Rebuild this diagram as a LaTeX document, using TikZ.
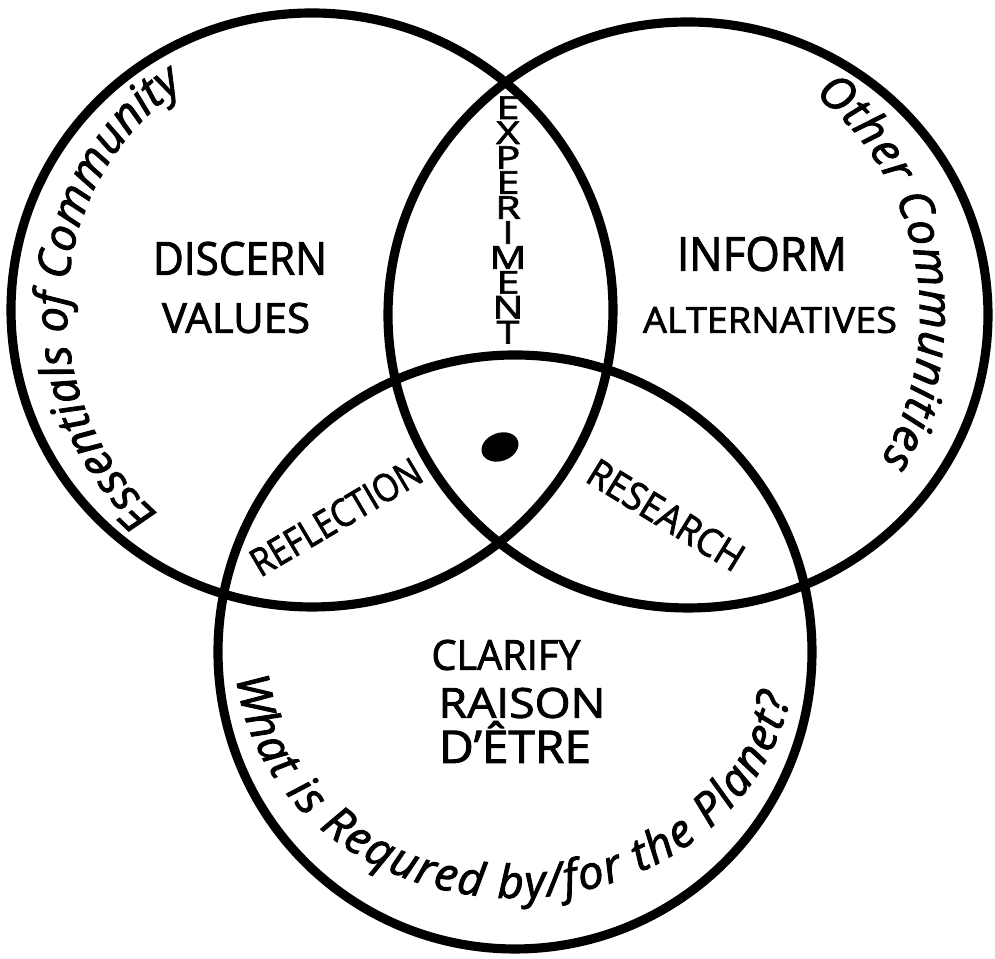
\documentclass[tikz,border=0pt]{standalone}
\usepackage{fontspec}
\setmainfont{Open Sans}[FakeBold=2]
\usepackage{graphicx}
\usetikzlibrary{decorations.text}
\newcommand\widelet[1]{\scalebox{1.3}[1]{#1}}
\begin{document}
\begin{tikzpicture}[
  ring/.style={line width=2.6pt},
  caps/.style={inner sep=0pt, text=black},
  stack/.style={inner sep=0pt, align=center, font=\fontsize{9}{7.1}\selectfont},
  along/.style={decorate, decoration={text along path, text align={fit to path}, text={#1}}}
]
\useasboundingbox (0,0) rectangle (9.95,9.59);
% circles
\draw[ring] (3.12,6.49) ellipse [x radius=3.01cm, y radius=2.97cm];
\draw[ring] (6.88,6.44) ellipse [x radius=3.00cm, y radius=2.93cm];
\draw[ring] (5.15,3.07) ellipse [x radius=2.97cm, y radius=2.97cm];
% centre dot
\fill[rotate around={20:(5.00,5.12)}] (5.00,5.12) ellipse [x radius=0.19cm, y radius=0.14cm];
% labels
\node[caps] (discern) at (2.40,7.005) {\resizebox{1.74cm}{0.33cm}{DISCERN}};
\node[caps] (values) at (2.36,6.41) {\resizebox{1.48cm}{0.30cm}{VALUES}};
\node[caps] (inform) at (7.62,7.05) {\resizebox{1.70cm}{0.34cm}{INFORM}};
\node[caps] (alternatives) at (7.70,6.39) {\resizebox{2.54cm}{0.26cm}{ALTERNATIVES}};
\node[caps] (clarify) at (5.06,3.04) {\resizebox{1.49cm}{0.30cm}{CLARIFY}};
\node[caps] (raison) at (5.22,2.56) {\resizebox{1.67cm}{0.30cm}{RAISON}};
\node[caps] (detre) at (5.15,2.17) {\resizebox{1.52cm}{0.42cm}{D’ÊTRE}};
\node[caps, rotate=30.6] (reflection) at (3.36,4.42) {\resizebox{1.92cm}{0.28cm}{REFLECTION}};
\node[caps, rotate=-31.6] (research) at (6.66,4.44) {\resizebox{1.76cm}{0.28cm}{RESEARCH}};
\node[stack] (experiment) at (5.08,7.39)
  {\widelet{E}\\\widelet{X}\\\widelet{P}\\\widelet{E}\\\widelet{R}\\\widelet{I}\\\widelet{M}\\\widelet{E}\\\widelet{N}\\\widelet{T}};
% text along the rims
\path[along={|\fontsize{13}{13}\selectfont\itshape|Essentials of Community}]
  (3.12,6.49) ++(231:2.45cm and 2.62cm)
  arc[start angle=231, end angle=123, x radius=2.45cm, y radius=2.62cm];
\path[along={|\fontsize{13}{13}\selectfont\itshape|Other Communities}]
  (6.88,6.44) ++(57:2.32cm and 2.62cm)
  arc[start angle=57, end angle=-34, x radius=2.32cm, y radius=2.62cm];
\path[along={|\fontsize{13}{13}\selectfont\itshape|What is Requred by/for the Planet?}]
  (5.15,3.07) ++(186:2.80cm and 2.46cm)
  arc[start angle=186, end angle=349.5, x radius=2.80cm, y radius=2.46cm];
\end{tikzpicture}
\end{document}
